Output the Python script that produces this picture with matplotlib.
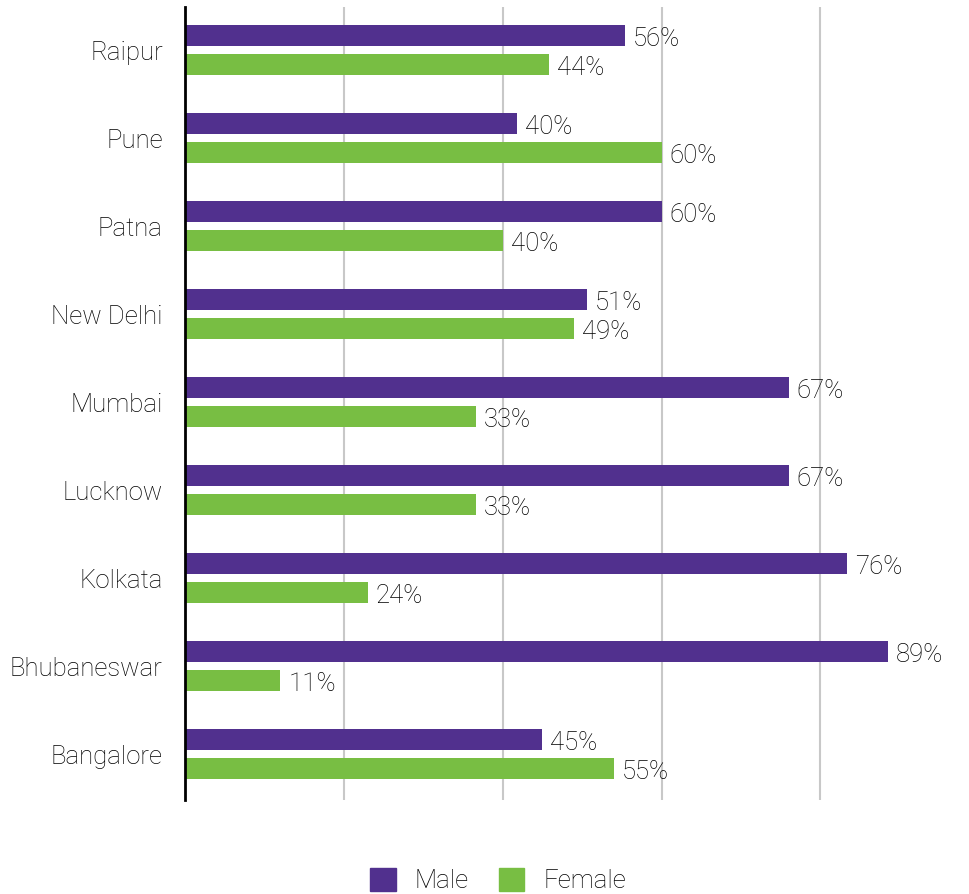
import matplotlib.pyplot as plt
from matplotlib.patches import Patch

plt.rcParams['font.family'] = ['Roboto', 'DejaVu Sans']

# cities, top to bottom
cities = ["Raipur", "Pune", "Patna", "New Delhi", "Mumbai",
          "Lucknow", "Kolkata", "Bhubaneswar", "Bangalore"]
# bar lengths as drawn in the picture (%)
male = [55.4, 41.8, 60.0, 50.6, 76.0, 76.0, 83.4, 88.5, 45.0]
female = [45.8, 60.0, 40.0, 49.0, 36.6, 36.6, 23.0, 12.0, 54.0]
# printed labels
male_labels = ["56%", "40%", "60%", "51%", "67%", "67%", "76%", "89%", "45%"]
female_labels = ["44%", "60%", "40%", "49%", "33%", "33%", "24%", "11%", "55%"]

PURPLE = "#51308e"
GREEN = "#78be43"
TXT = "#000000"
FS = 18.5
W = 'light'

fig = plt.figure(figsize=(9.69, 8.94), dpi=100)
ax = fig.add_axes([185 / 969, 1 - 800 / 894, 1 - 185 / 969, 793 / 894])

ys = list(range(len(cities)))
h = 0.236
off = 0.166
ax.barh([y - off for y in ys], male, height=h, color=PURPLE, zorder=3)
ax.barh([y + off for y in ys], female, height=h, color=GREEN, zorder=3)

for y, v, t in zip(ys, male, male_labels):
    ax.text(v + 1.0, y - off + 0.01, t, va='center_baseline', ha='left', fontsize=FS,
            fontweight=W, color=TXT)
for y, v, t in zip(ys, female, female_labels):
    ax.text(v + 1.0, y + off + 0.01, t, va='center_baseline', ha='left', fontsize=FS,
            fontweight=W, color=TXT)

ax.set_ylim(8.52, -0.49)
ax.set_xlim(0, 98.7)
ax.set_yticks(ys)
ax.set_yticklabels(cities, fontsize=FS, fontweight=W, color=TXT)
ax.tick_params(axis='y', length=0, pad=16)
ax.set_xticks([20, 40, 60, 80])
ax.tick_params(axis='x', length=0, labelbottom=False)
ax.grid(axis='x', color='#c8c8c8', linewidth=1.5, zorder=0)
for s in ['top', 'right', 'bottom']:
    ax.spines[s].set_visible(False)
ax.spines['left'].set_linewidth(2)
ax.spines['left'].set_color('black')
ax.spines['left'].set_zorder(4)

handles = [Patch(color=PURPLE, label="Male"), Patch(color=GREEN, label="Female")]
leg = fig.legend(handles=handles, loc='lower center', bbox_to_anchor=(0.514, -0.016),
                 ncol=2, frameon=False, handlelength=1.0, handleheight=1.0,
                 handletextpad=0.74, columnspacing=1.17, borderpad=0.1,
                 prop={'size': FS, 'weight': W})
for t in leg.get_texts():
    t.set_color(TXT)

fig.savefig("out.png", dpi=100)
